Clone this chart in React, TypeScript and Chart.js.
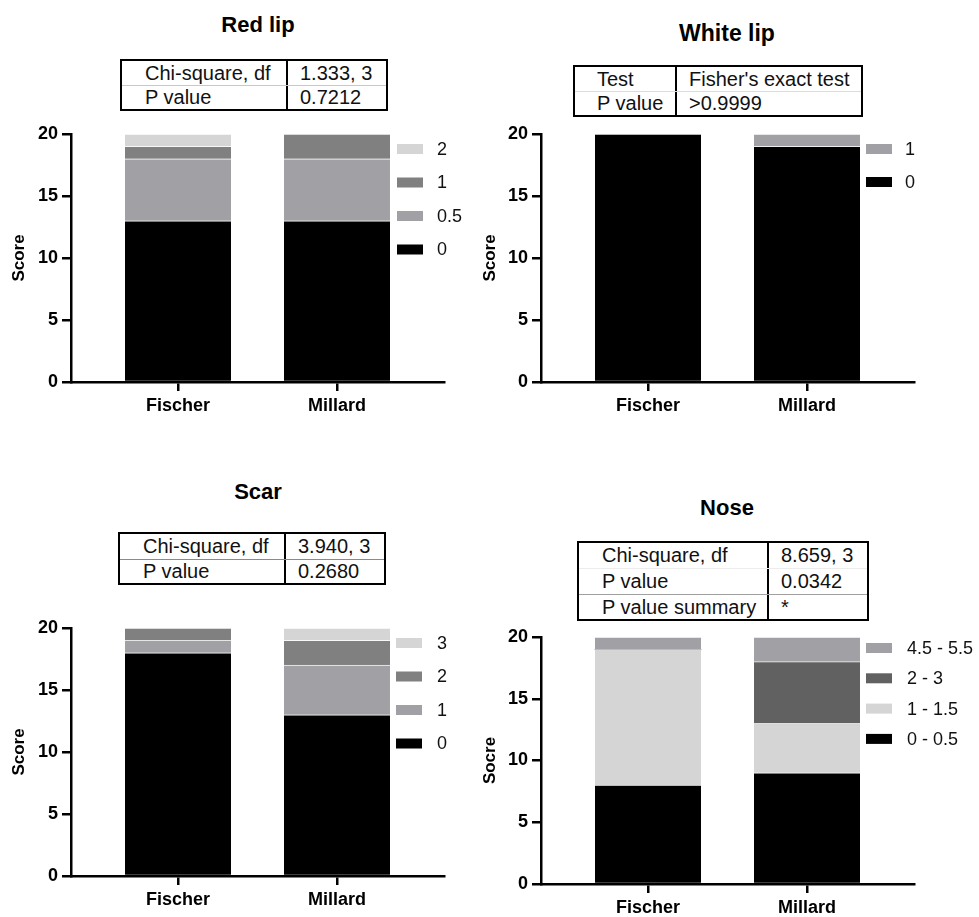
import React, { useEffect, useRef } from 'react';
import { Chart, registerables } from 'chart.js';

Chart.register(...registerables);

const FONT = '"Liberation Sans", Arial, Helvetica, sans-serif';
Chart.defaults.font.family = FONT;

// ---------- data ----------
const categories = ['Fischer', 'Millard'];
const yTickValues = [0, 5, 10, 15, 20];

const BLACK = '#000000';
const GRAY = '#a0a0a5';
const MID = '#808080';
const LIGHT = '#d5d5d5';
const DARK = '#616161';

// Red lip
const redLipLabels = ['0', '0.5', '1', '2'];
const redLipScore0 = [13, 13];
const redLipScore05 = [5, 5];
const redLipScore1 = [1, 2];
const redLipScore2 = [1, 0];
const redLipColors = [BLACK, GRAY, MID, LIGHT];
const redLipTable = [['Chi-square, df', '1.333, 3'], ['P value', '0.7212']];

// White lip
const whiteLipLabels = ['0', '1'];
const whiteLipScore0 = [20, 19];
const whiteLipScore1 = [0, 1];
const whiteLipColors = [BLACK, GRAY];
const whiteLipTable = [['Test', "Fisher's exact test"], ['P value', '>0.9999']];

// Scar
const scarLabels = ['0', '1', '2', '3'];
const scarScore0 = [18, 13];
const scarScore1 = [1, 4];
const scarScore2 = [1, 2];
const scarScore3 = [0, 1];
const scarColors = [BLACK, GRAY, MID, LIGHT];
const scarTable = [['Chi-square, df', '3.940, 3'], ['P value', '0.2680']];

// Nose
const noseLabels = ['0 - 0.5', '1 - 1.5', '2 - 3', '4.5 - 5.5'];
const noseScore0 = [8, 9];
const noseScore1 = [11, 4];
const noseScore2 = [0, 5];
const noseScore3 = [1, 2];
const noseColors = [BLACK, LIGHT, DARK, GRAY];
const noseTable = [['Chi-square, df', '8.659, 3'], ['P value', '0.0342'], ['P value summary', '*']];

// ---------- legend plugin ----------
const sideLegend = {
  id: 'sideLegend',
  afterDraw(chart: any, _args: any, opts: any) {
    const { ctx } = chart;
    const ds = chart.data.datasets;
    ctx.save();
    ctx.font = `18px ${FONT}`;
    ctx.textBaseline = 'middle';
    ctx.textAlign = 'left';
    const n = ds.length;
    for (let k = 0; k < n; k++) {
      const d = ds[n - 1 - k];
      const y = opts.y0 + k * opts.dy;
      ctx.fillStyle = d.backgroundColor;
      ctx.fillRect(opts.boxX, y - 5, 26, 10);
      ctx.fillStyle = '#111';
      ctx.fillText(d.label, opts.labelX, y + 1);
    }
    ctx.restore();
  },
};

type PanelProps = {
  canvas: { left: number; top: number; width: number; height: number };
  area: { l: number; r: number; t: number; b: number };
  axisTitle: string;
  axisTitleX: number;
  legend: { boxX: number; y0: number; dy: number; labelX: number };
  labels: string[];
  series: number[][];
  colors: string[];
};

function ChartPanel(p: PanelProps) {
  const ref = useRef<HTMLCanvasElement | null>(null);
  useEffect(() => {
    if (!ref.current) return;
    const c = p.canvas;
    const yWidth = p.area.l - c.left;
    const xHeight = c.top + c.height - p.area.b;
    const titleLH = 17 * 1.2;
    const titlePad = Math.max(0, p.axisTitleX - c.left - titleLH / 2);
    const chart = new Chart(ref.current, {
      type: 'bar',
      data: {
        datasets: p.series.map((vals, i) => ({
          label: p.labels[i],
          data: categories.map((_, j) => ({ x: j, y: vals[j] })),
          backgroundColor: p.colors[i],
          borderColor: 'rgba(255,255,255,0.45)',
          borderWidth: { top: 1, left: 0, right: 0, bottom: 0 },
          borderSkipped: false,
          barThickness: 106,
          stack: 's',
        })),
      },
      options: {
        responsive: false,
        maintainAspectRatio: false,
        animation: false,
        layout: {
          padding: { top: p.area.t - c.top, left: 0, right: c.left + c.width - p.area.r, bottom: 0 },
        },
        plugins: {
          legend: { display: false },
          tooltip: { enabled: false },
          sideLegend: {
            boxX: p.legend.boxX - c.left,
            y0: p.legend.y0 - c.top,
            dy: p.legend.dy,
            labelX: p.legend.labelX - c.left,
          },
        } as any,
        scales: {
          x: {
            type: 'linear',
            min: -0.673,
            max: 1.673,
            offset: false,
            afterBuildTicks: (s: any) => {
              s.ticks = categories.map((_, i) => ({ value: i }));
            },
            afterFit: (s: any) => {
              s.height = xHeight;
            },
            ticks: {
              callback: (v: any) => categories[v] ?? '',
              font: { size: 18, weight: 'bold' },
              color: '#000',
              padding: 4,
              maxRotation: 0,
              autoSkip: false,
            },
            grid: {
              display: true, offset: false, drawOnChartArea: false, drawTicks: true,
              tickLength: 9, color: '#000', lineWidth: 2.5,
            },
            border: { display: true, color: '#000', width: 2.5 },
          },
          y: {
            type: 'linear',
            stacked: true,
            min: 0,
            max: 20,
            afterBuildTicks: (s: any) => {
              s.ticks = yTickValues.map((v) => ({ value: v }));
            },
            afterFit: (s: any) => {
              s.width = yWidth;
            },
            ticks: {
              font: { size: 18, weight: 'bold' },
              color: '#000',
              padding: 4,
            },
            grid: {
              display: true, offset: false, drawOnChartArea: false, drawTicks: true,
              tickLength: 9, color: '#000', lineWidth: 2.5,
            },
            border: { display: true, color: '#000', width: 2.5 },
            title: {
              display: true,
              text: p.axisTitle,
              color: '#000',
              font: { size: 17, weight: 'bold' },
              padding: { top: titlePad, bottom: 0 },
            },
          },
        },
      } as any,
      plugins: [sideLegend as any],
    });
    return () => chart.destroy();
  }, []);
  const c = p.canvas;
  return (
    <canvas
      ref={ref}
      width={c.width}
      height={c.height}
      style={{ position: 'absolute', left: c.left, top: c.top, width: c.width, height: c.height }}
    />
  );
}

function Title({ text, cx, cy, size }: { text: string; cx: number; cy: number; size: number }) {
  return (
    <div
      style={{
        position: 'absolute',
        left: cx - 150,
        width: 300,
        top: cy - size * 0.6,
        height: size * 1.2,
        lineHeight: `${size * 1.2}px`,
        textAlign: 'center',
        fontFamily: FONT,
        fontWeight: 'bold',
        fontSize: size,
        color: '#000',
      }}
    >
      {text}
    </div>
  );
}

function StatTable({
  rows, left, top, width, height, col1, pad1, pad2, dividers,
}: {
  rows: string[][]; left: number; top: number; width: number; height: number;
  col1: number; pad1: number; pad2: number; dividers: string[];
}) {
  const inner = height - 4;
  const rh = inner / rows.length;
  return (
    <div
      style={{
        position: 'absolute', left, top, width, height, boxSizing: 'border-box',
        border: '2px solid #000', background: '#fff', fontFamily: FONT, fontSize: 20, color: '#111',
      }}
    >
      {rows.map((r, i) => (
        <div
          key={i}
          style={{
            display: 'flex', height: rh, boxSizing: 'border-box',
            borderTop: i > 0 ? `1px solid ${dividers[i - 1]}` : 'none',
          }}
        >
          <div
            style={{
              width: col1 - 2, boxSizing: 'border-box', borderRight: '2px solid #000',
              paddingLeft: pad1 - 2, lineHeight: `${rh - (i > 0 ? 1 : 0)}px`, whiteSpace: 'nowrap',
            }}
          >
            {r[0]}
          </div>
          <div style={{ paddingLeft: pad2, lineHeight: `${rh - (i > 0 ? 1 : 0)}px`, whiteSpace: 'nowrap' }}>{r[1]}</div>
        </div>
      ))}
    </div>
  );
}

export default function App() {
  return (
    <div style={{ position: 'absolute', left: 0, top: 0, width: 979, height: 917, background: '#fff', overflow: 'hidden' }}>
      <ChartPanel
        canvas={{ left: 0, top: 114, width: 480, height: 308 }}
        area={{ l: 71, r: 444, t: 134, b: 382 }}
        axisTitle="Score"
        axisTitleX={19}
        legend={{ boxX: 397, y0: 149, dy: 33.5, labelX: 437 }}
        labels={redLipLabels}
        series={[redLipScore0, redLipScore05, redLipScore1, redLipScore2]}
        colors={redLipColors}
      />
      <ChartPanel
        canvas={{ left: 480, top: 114, width: 499, height: 308 }}
        area={{ l: 541, r: 914, t: 134, b: 382 }}
        axisTitle="Score"
        axisTitleX={490}
        legend={{ boxX: 866, y0: 149, dy: 33, labelX: 905 }}
        labels={whiteLipLabels}
        series={[whiteLipScore0, whiteLipScore1]}
        colors={whiteLipColors}
      />
      <ChartPanel
        canvas={{ left: 0, top: 608, width: 480, height: 309 }}
        area={{ l: 71, r: 444, t: 628, b: 876 }}
        axisTitle="Score"
        axisTitleX={19}
        legend={{ boxX: 396, y0: 643, dy: 33.5, labelX: 437 }}
        labels={scarLabels}
        series={[scarScore0, scarScore1, scarScore2, scarScore3]}
        colors={scarColors}
      />
      <ChartPanel
        canvas={{ left: 480, top: 617, width: 499, height: 300 }}
        area={{ l: 541, r: 914, t: 637, b: 884 }}
        axisTitle="Socre"
        axisTitleX={490}
        legend={{ boxX: 866, y0: 648, dy: 30.3, labelX: 907 }}
        labels={noseLabels}
        series={[noseScore0, noseScore1, noseScore2, noseScore3]}
        colors={noseColors}
      />

      <Title text="Red lip" cx={258} cy={25} size={22} />
      <Title text="White lip" cx={727} cy={34} size={23} />
      <Title text="Scar" cx={258} cy={492} size={22} />
      <Title text="Nose" cx={727} cy={508} size={22} />

      <StatTable rows={redLipTable} left={120} top={59} width={268} height={52} col1={168} pad1={25} pad2={12} dividers={['#c8c8c8']} />
      <StatTable rows={whiteLipTable} left={573} top={65} width={290} height={52} col1={104} pad1={24} pad2={12} dividers={['#dcdcdc']} />
      <StatTable rows={scarTable} left={118} top={532} width={268} height={53} col1={168} pad1={25} pad2={12} dividers={['#8a8a8a']} />
      <StatTable rows={noseTable} left={577} top={541} width={292} height={80} col1={192} pad1={25} pad2={12} dividers={['#ececec', '#a0a0a0']} />
    </div>
  );
}
